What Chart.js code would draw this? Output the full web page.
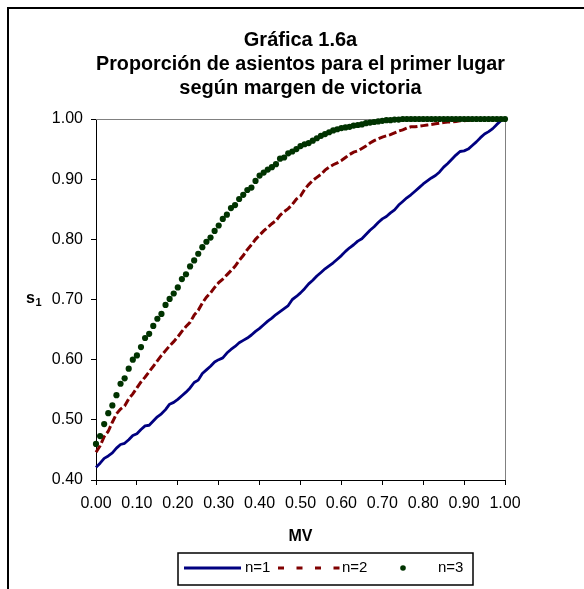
<!DOCTYPE html>
<html><head><meta charset="utf-8">
<script src="https://cdn.jsdelivr.net/npm/chart.js@4.4.1/dist/chart.umd.min.js"></script>
<style>html,body{margin:0;padding:0;background:#fff;overflow:hidden}canvas{display:block}</style>
</head><body>
<canvas id="c" width="584" height="589"></canvas>
<script>
const mv = [0.00,0.01,0.02,0.03,0.04,0.05,0.06,0.07,0.08,0.09,
 0.10,0.11,0.12,0.13,0.14,0.15,0.16,0.17,0.18,0.19,
 0.20,0.21,0.22,0.23,0.24,0.25,0.26,0.27,0.28,0.29,
 0.30,0.31,0.32,0.33,0.34,0.35,0.36,0.37,0.38,0.39,
 0.40,0.41,0.42,0.43,0.44,0.45,0.46,0.47,0.48,0.49,
 0.50,0.51,0.52,0.53,0.54,0.55,0.56,0.57,0.58,0.59,
 0.60,0.61,0.62,0.63,0.64,0.65,0.66,0.67,0.68,0.69,
 0.70,0.71,0.72,0.73,0.74,0.75,0.76,0.77,0.78,0.79,
 0.80,0.81,0.82,0.83,0.84,0.85,0.86,0.87,0.88,0.89,
 0.90,0.91,0.92,0.93,0.94,0.95,0.96,0.97,0.98,0.99,
 1.00];
const n1 = [0.421,0.428,0.436,0.440,0.445,0.453,0.459,0.461,0.467,0.474,
 0.477,0.484,0.490,0.491,0.498,0.505,0.510,0.517,0.526,0.529,
 0.534,0.540,0.546,0.553,0.562,0.566,0.577,0.583,0.589,0.596,
 0.600,0.603,0.611,0.617,0.622,0.628,0.632,0.636,0.641,0.647,
 0.652,0.658,0.664,0.669,0.675,0.680,0.685,0.690,0.700,0.705,
 0.711,0.718,0.726,0.732,0.739,0.745,0.751,0.756,0.761,0.767,
 0.773,0.780,0.786,0.791,0.797,0.801,0.808,0.815,0.821,0.828,
 0.834,0.838,0.844,0.849,0.857,0.863,0.869,0.874,0.880,0.886,
 0.892,0.897,0.902,0.906,0.912,0.920,0.926,0.933,0.940,0.946,
 0.947,0.950,0.956,0.962,0.969,0.975,0.979,0.984,0.991,0.997,
 1.000];
const n2 = [0.446,0.457,0.472,0.481,0.496,0.510,0.518,0.523,0.535,0.543,
 0.553,0.563,0.571,0.580,0.589,0.598,0.607,0.615,0.623,0.630,
 0.638,0.647,0.655,0.662,0.674,0.682,0.694,0.704,0.711,0.720,
 0.728,0.734,0.741,0.748,0.755,0.765,0.773,0.783,0.791,0.800,
 0.807,0.814,0.820,0.826,0.831,0.840,0.846,0.851,0.858,0.867,
 0.872,0.883,0.891,0.898,0.903,0.908,0.915,0.920,0.924,0.927,
 0.931,0.936,0.941,0.945,0.947,0.951,0.955,0.960,0.964,0.967,
 0.970,0.972,0.974,0.977,0.980,0.982,0.985,0.987,0.987,0.988,
 0.989,0.990,0.991,0.992,0.993,0.994,0.995,0.995,0.996,0.997,
 0.997,0.998,0.998,0.999,0.999,1.000,1.000,1.000,1.000,1.000,
 1.000];
const n3 = [0.460,0.473,0.493,0.511,0.524,0.541,0.560,0.569,0.585,0.600,
 0.607,0.621,0.636,0.643,0.656,0.668,0.676,0.691,0.701,0.710,
 0.720,0.734,0.742,0.755,0.765,0.776,0.787,0.796,0.803,0.814,
 0.823,0.834,0.841,0.852,0.857,0.867,0.874,0.882,0.886,0.897,
 0.906,0.911,0.916,0.920,0.925,0.934,0.936,0.943,0.946,0.950,
 0.955,0.958,0.960,0.964,0.968,0.972,0.975,0.978,0.981,0.983,
 0.985,0.986,0.987,0.989,0.990,0.991,0.993,0.994,0.995,0.996,
 0.997,0.998,0.998,0.999,0.999,1.000,1.000,1.000,1.000,1.000,
 1.000,1.000,1.000,1.000,1.000,1.000,1.000,1.000,1.000,1.000,
 1.000,1.000,1.000,1.000,1.000,1.000,1.000,1.000,1.000,1.000,
 1.000];
const seriesNames = ['n=1','n=2','n=3'];
const titleLines = ['Gráfica 1.6a','Proporción de asientos para el primer lugar','según margen de victoria'];
const xTitle = 'MV';
const yTitle = 's';
const yTitleSub = '1';

const FONT = "'Liberation Sans', Arial, Helvetica, sans-serif";
const COLORS = ['#000080', '#800000', '#003300'];
function pts(arr){ return mv.map((x, i) => ({x: x, y: arr[i]})); }

const decor = {
  id: 'decor',
  beforeDraw(chart){
    const ctx = chart.ctx;
    ctx.save();
    ctx.fillStyle = '#fff';
    ctx.fillRect(0, 0, chart.width, chart.height);
    ctx.strokeStyle = '#000';
    ctx.lineWidth = 2;
    ctx.beginPath();
    ctx.moveTo(8, chart.height + 4);
    ctx.lineTo(8, 8);
    ctx.lineTo(chart.width + 4, 8);
    ctx.stroke();
    ctx.restore();
  },
  beforeDatasetsDraw(chart){
    const a = chart.chartArea, ctx = chart.ctx;
    ctx.save();
    ctx.strokeStyle = '#808080';
    ctx.lineWidth = 1;
    ctx.beginPath();
    ctx.moveTo(a.left, a.top + 0.5);
    ctx.lineTo(a.right + 0.5, a.top + 0.5);
    ctx.lineTo(a.right + 0.5, a.bottom);
    ctx.stroke();
    ctx.restore();
  },
  afterDraw(chart){
    const ctx = chart.ctx;
    const yMid = chart.scales.y.getPixelForValue(0.70);
    ctx.save();
    ctx.fillStyle = '#000';
    ctx.textBaseline = 'middle';
    ctx.textAlign = 'left';
    ctx.font = 'bold 16px ' + FONT;
    ctx.fillText(yTitle, 26, yMid - 1);
    ctx.font = 'bold 11px ' + FONT;
    ctx.fillText(yTitleSub, 35.5, yMid + 3);

    // legend
    const ly = 568;
    ctx.strokeStyle = '#000';
    ctx.lineWidth = 1.5;
    ctx.strokeRect(178, 553, 295, 32);
    ctx.lineWidth = 3;
    ctx.strokeStyle = COLORS[0];
    ctx.beginPath(); ctx.moveTo(184, ly); ctx.lineTo(241, ly); ctx.stroke();
    ctx.strokeStyle = COLORS[1];
    ctx.setLineDash([6, 12.5]);
    ctx.beginPath(); ctx.moveTo(278, ly); ctx.lineTo(340, ly); ctx.stroke();
    ctx.setLineDash([]);
    ctx.fillStyle = COLORS[2];
    ctx.beginPath(); ctx.arc(403, ly, 2.8, 0, Math.PI * 2); ctx.fill();
    ctx.fillStyle = '#000';
    ctx.font = '15px ' + FONT;
    ctx.fillText(seriesNames[0], 245, ly);
    ctx.fillText(seriesNames[1], 342, ly);
    ctx.fillText(seriesNames[2], 438, ly);
    ctx.restore();
  }
};

const axisCommon = {
  grid: {drawOnChartArea: false, drawTicks: true, tickLength: 5, color: '#000', lineWidth: 1},
  border: {display: true, color: '#000', width: 1}
};

new Chart(document.getElementById('c'), {
  type: 'scatter',
  data: {
    datasets: [
      {label: seriesNames[2], data: pts(n3), showLine: false, pointRadius: 3.1, pointHoverRadius: 3.1,
       pointBackgroundColor: COLORS[2], pointBorderWidth: 0, borderColor: COLORS[2], clip: false},
      {label: seriesNames[1], data: pts(n2), showLine: true, borderColor: COLORS[1], borderWidth: 3,
       borderDash: [8, 3], pointRadius: 0, clip: false},
      {label: seriesNames[0], data: pts(n1), showLine: true, borderColor: COLORS[0], borderWidth: 2.8,
       borderJoinStyle: 'round', pointRadius: 0, clip: false}
    ]
  },
  options: {
    responsive: false, animation: false, devicePixelRatio: 1,
    layout: {padding: {left: 0, right: 79, top: 0, bottom: 0}},
    plugins: {
      legend: {display: false},
      tooltip: {enabled: false},
      title: {display: true, text: titleLines, fullSize: false, color: '#000',
        font: {family: FONT, size: 20, weight: 'bold', lineHeight: 1.2},
        padding: {top: 28, bottom: 19}}
    },
    scales: {
      x: Object.assign({}, axisCommon, {
        type: 'linear', min: 0, max: 1,
        afterFit(s){ s.height = 109; },
        ticks: {stepSize: 0.1, autoSkip: false, maxRotation: 0, color: '#000', padding: 9,
          font: {family: FONT, size: 16}, callback: v => Number(v).toFixed(2)},
        title: {display: true, text: xTitle, color: '#000',
          font: {family: FONT, size: 16, weight: 'bold'}, padding: {top: 0, bottom: 43}}
      }),
      y: Object.assign({}, axisCommon, {
        type: 'linear', min: 0.4, max: 1,
        afterFit(s){ s.width = 96; },
        ticks: {stepSize: 0.1, color: '#000', padding: 8,
          font: {family: FONT, size: 16}, callback: v => Number(v).toFixed(2)}
      })
    }
  },
  plugins: [decor]
});
</script>
</body></html>
